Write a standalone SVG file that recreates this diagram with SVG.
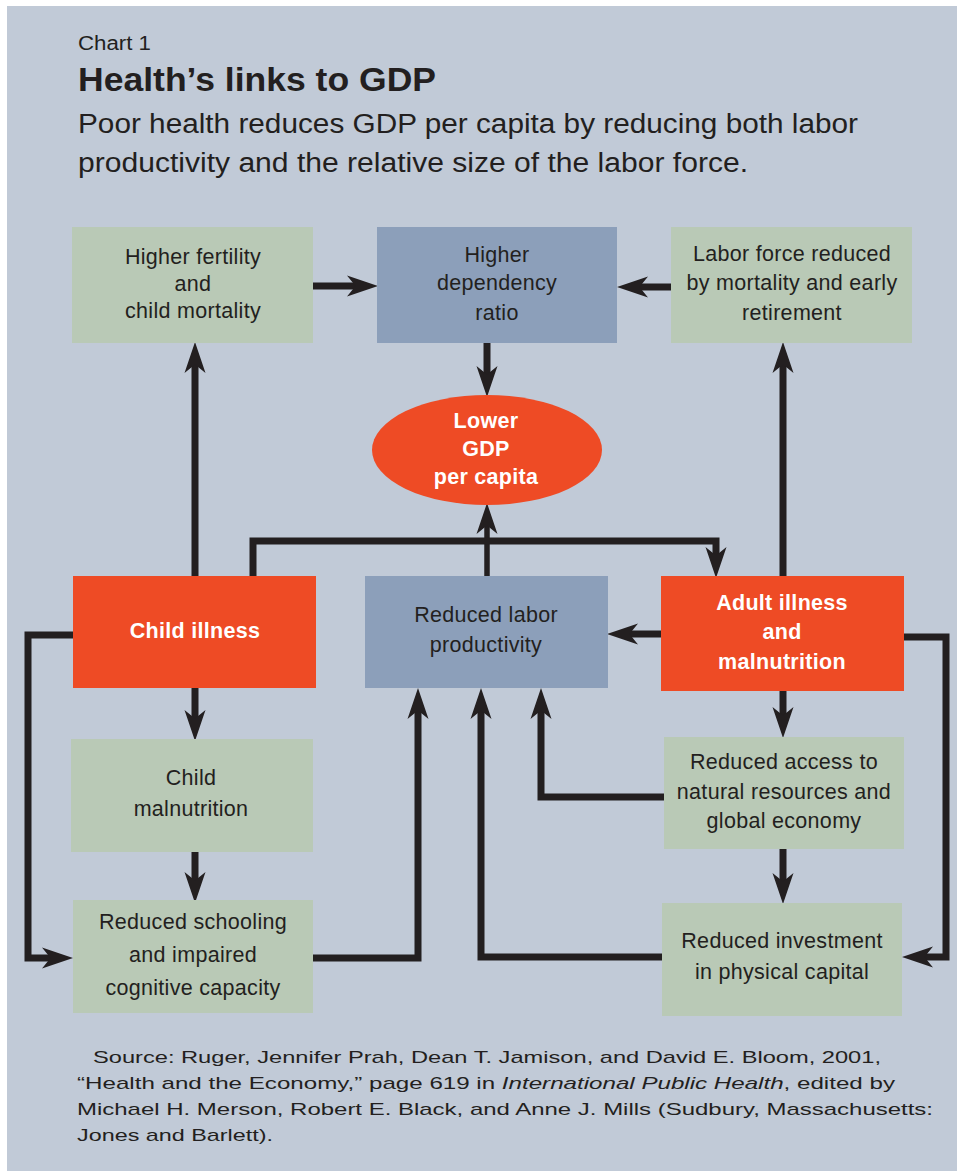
<svg xmlns="http://www.w3.org/2000/svg" width="957" height="1171" viewBox="0 0 957 1171">
<defs>
<style>
.t{font-family:"Liberation Sans",Arial,sans-serif;fill:#231f20}
.n{font-family:"Liberation Sans",Arial,sans-serif;font-size:21.5px;fill:#231f20;text-anchor:middle;letter-spacing:0.3px}
.w{fill:#ffffff;font-weight:bold}
.g{fill:#b9c9b6}
.b{fill:#8c9fba}
.o{fill:#ee4b25}
.c{fill:none;stroke:#231f20;stroke-width:7;stroke-linejoin:miter;marker-end:url(#ah)}
</style>
<marker id="ah" markerUnits="userSpaceOnUse" markerWidth="32" markerHeight="22" viewBox="0 0 32 22" refX="10" refY="11" orient="auto">
<path d="M0,0.5 L31,11 L0,21.5 L8.5,11 Z" fill="#231f20"/>
</marker>
</defs>
<rect x="0" y="0" width="957" height="1171" fill="#ffffff"/>
<rect x="7" y="6" width="950" height="1165" fill="#c1cad7"/>

<g id="header">
<text class="t" x="78" y="50" font-size="20" textLength="73" lengthAdjust="spacingAndGlyphs">Chart 1</text>
<text class="t" x="78" y="91" font-size="33" font-weight="bold" textLength="358" lengthAdjust="spacingAndGlyphs">Health’s links to GDP</text>
<text class="t" x="78" y="133" font-size="27" textLength="780" lengthAdjust="spacingAndGlyphs">Poor health reduces GDP per capita by reducing both labor</text>
<text class="t" x="78" y="172" font-size="27" textLength="670" lengthAdjust="spacingAndGlyphs">productivity and the relative size of the labor force.</text>
</g>

<g id="connectors">
<path class="c" d="M313,286 H357"/>
<path class="c" d="M671,287 H638"/>
<path class="c" d="M487,343 V376"/>
<path class="c" d="M487,576 V524" style="stroke-width:5.5"/>
<path class="c" d="M195,576 V363"/>
<path class="c" d="M783,576 V363"/>
<path class="c" d="M253,576 V541 H716 V557"/>
<path class="c" d="M661,634 H628"/>
<path class="c" d="M195,688 V720"/>
<path class="c" d="M195,852 V882"/>
<path class="c" d="M73,635 H28 V958 H52"/>
<path class="c" d="M313,958 H418 V709"/>
<path class="c" d="M662,957 H481 V709"/>
<path class="c" d="M664,797 H541 V709"/>
<path class="c" d="M783,691 V717"/>
<path class="c" d="M783,849 V883"/>
<path class="c" d="M904,637 H946 V957 H923"/>
</g>

<g id="fertility">
<rect class="g" x="72" y="227" width="241" height="116"/>
<text class="n" x="193" y="264">Higher fertility</text>
<text class="n" x="193" y="291">and</text>
<text class="n" x="193" y="318">child mortality</text>
</g>

<g id="dependency">
<rect class="b" x="377" y="227" width="240" height="116"/>
<text class="n" x="497" y="262">Higher</text>
<text class="n" x="497" y="290">dependency</text>
<text class="n" x="497" y="320">ratio</text>
</g>

<g id="laborforce">
<rect class="g" x="671" y="227" width="241" height="116"/>
<text class="n" x="792" y="261">Labor force reduced</text>
<text class="n" x="792" y="290">by mortality and early</text>
<text class="n" x="792" y="320">retirement</text>
</g>

<g id="gdp">
<ellipse class="o" cx="487" cy="450" rx="115" ry="55"/>
<text class="n w" x="486" y="428">Lower</text>
<text class="n w" x="486" y="456">GDP</text>
<text class="n w" x="486" y="484">per capita</text>
</g>

<g id="childillness">
<rect class="o" x="73" y="576" width="243" height="112"/>
<text class="n w" x="195" y="638">Child illness</text>
</g>

<g id="productivity">
<rect class="b" x="365" y="576" width="243" height="112"/>
<text class="n" x="486" y="622">Reduced labor</text>
<text class="n" x="486" y="652">productivity</text>
</g>

<g id="adultillness">
<rect class="o" x="661" y="576" width="243" height="115"/>
<text class="n w" x="782" y="610">Adult illness</text>
<text class="n w" x="782" y="639">and</text>
<text class="n w" x="782" y="669">malnutrition</text>
</g>

<g id="childmalnutrition">
<rect class="g" x="71" y="739" width="242" height="113"/>
<text class="n" x="191" y="785">Child</text>
<text class="n" x="191" y="816">malnutrition</text>
</g>

<g id="schooling">
<rect class="g" x="73" y="900" width="240" height="113"/>
<text class="n" x="193" y="929">Reduced schooling</text>
<text class="n" x="193" y="962">and impaired</text>
<text class="n" x="193" y="995">cognitive capacity</text>
</g>

<g id="access">
<rect class="g" x="664" y="737" width="240" height="112"/>
<text class="n" x="784" y="769">Reduced access to</text>
<text class="n" x="784" y="799">natural resources and</text>
<text class="n" x="784" y="828">global economy</text>
</g>

<g id="investment">
<rect class="g" x="662" y="903" width="240" height="113"/>
<text class="n" x="782" y="948">Reduced investment</text>
<text class="n" x="782" y="979">in physical capital</text>
</g>

<g id="source">
<text class="t" x="93" y="1063" font-size="17" textLength="788" lengthAdjust="spacingAndGlyphs">Source: Ruger, Jennifer Prah, Dean T. Jamison, and David E. Bloom, 2001,</text>
<text class="t" x="77" y="1089" font-size="17" textLength="818" lengthAdjust="spacingAndGlyphs">“Health and the Economy,” page 619 in <tspan font-style="italic">International Public Health</tspan>, edited by</text>
<text class="t" x="77" y="1115" font-size="17" textLength="856" lengthAdjust="spacingAndGlyphs">Michael H. Merson, Robert E. Black, and Anne J. Mills (Sudbury, Massachusetts:</text>
<text class="t" x="77" y="1141" font-size="17" textLength="196" lengthAdjust="spacingAndGlyphs">Jones and Barlett).</text>
</g>
</svg>
